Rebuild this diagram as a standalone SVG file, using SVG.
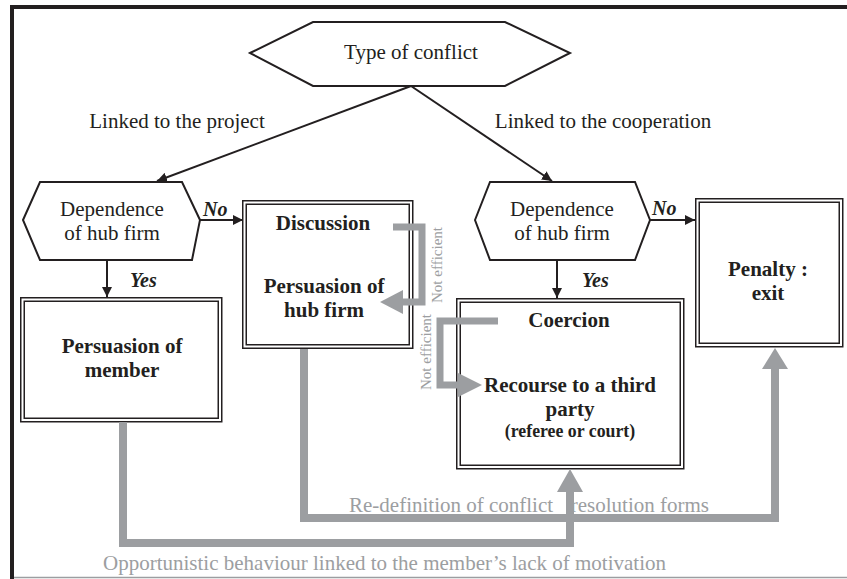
<svg xmlns="http://www.w3.org/2000/svg" width="847" height="579" viewBox="0 0 847 579">
<style>
  .t{font-family:"Liberation Serif","Times New Roman",serif;fill:#231f20;text-anchor:middle}
  .r{font-size:21px}
  .b{font-size:21px;font-weight:bold}
  .s{font-size:17.8px;font-weight:bold}
  .bi{font-size:20px;font-weight:bold;font-style:italic;text-anchor:start}
  .g{font-family:"Liberation Serif","Times New Roman",serif;fill:#9c9ea1;font-size:21px}
  .ne{font-size:15px;text-anchor:middle}
  .hex{fill:#fff;stroke:#231f20;stroke-width:2;stroke-linejoin:miter}
  .box{fill:#fff;stroke:#231f20;stroke-width:1.5}
  .ln{fill:none;stroke:#231f20;stroke-width:2}
  .gl{fill:none;stroke:#9c9ea1;stroke-width:8}
  .gb{fill:none;stroke:#9c9ea1;stroke-width:7}
  .gh{fill:#9c9ea1}
</style>
<defs>
  <marker id="ah" viewBox="0 0 10 10" refX="10" refY="5" markerWidth="5" markerHeight="5" orient="auto" markerUnits="strokeWidth">
    <path d="M0,0 L10,5 L0,10 Z" fill="#231f20"/>
  </marker>
</defs>
<rect width="847" height="579" fill="#fff"/>
<g id="frame">
  <line x1="10" y1="7" x2="847" y2="7" stroke="#231f20" stroke-width="4"/>
  <line x1="12" y1="5" x2="12" y2="579" stroke="#231f20" stroke-width="4"/>
  <line x1="14" y1="577.5" x2="847" y2="577.5" stroke="#9c9ea1" stroke-width="1.5"/>
</g>

<g id="type">
  <polygon class="hex" points="250,53 313,22 505,22 570,53 505,86 313,86"/>
  <text class="t r" x="411" y="59">Type of conflict</text>
</g>

<g id="dep1">
  <polygon class="hex" points="23,220 40,182 182,182 200,220 192,260 40,260"/>
  <text class="t r" x="112" y="216">Dependence</text>
  <text class="t r" x="112" y="240">of hub firm</text>
</g>

<g id="dep2">
  <polygon class="hex" points="475,220 490,182 635,182 650,220 635,260 490,260"/>
  <text class="t r" x="562" y="216">Dependence</text>
  <text class="t r" x="562" y="240">of hub firm</text>
</g>

<g id="member">
  <rect class="box" x="20.75" y="297.75" width="201" height="124"/>
  <rect class="box" x="24.25" y="301.25" width="194" height="117"/>
  <text class="t b" x="122" y="353">Persuasion of</text>
  <text class="t b" x="122" y="377">member</text>
</g>

<g id="discussion">
  <rect class="box" x="242.75" y="200.75" width="170" height="147.5"/>
  <rect class="box" x="246.25" y="204.25" width="163" height="140.5"/>
  <text class="t b" x="323" y="230">Discussion</text>
  <text class="t b" x="324" y="293">Persuasion of</text>
  <text class="t b" x="324" y="317">hub firm</text>
</g>

<g id="coercion">
  <rect class="box" x="456.75" y="298.75" width="227" height="170"/>
  <rect class="box" x="460.25" y="302.25" width="220" height="163"/>
  <text class="t b" x="569" y="327">Coercion</text>
  <text class="t b" x="570" y="392">Recourse to a third</text>
  <text class="t b" x="570" y="416">party</text>
  <text class="t s" x="570" y="437">(referee or court)</text>
</g>

<g id="penalty">
  <rect class="box" x="695.75" y="198.75" width="147" height="148"/>
  <rect class="box" x="699.25" y="202.25" width="140" height="141"/>
  <text class="t b" x="768" y="276">Penalty :</text>
  <text class="t b" x="768" y="300">exit</text>
</g>

<g id="connectors">
  <line class="ln" x1="411" y1="86" x2="157" y2="181" marker-end="url(#ah)"/>
  <line class="ln" x1="411" y1="86" x2="552" y2="181" marker-end="url(#ah)"/>
  <line class="ln" x1="200" y1="220" x2="243" y2="220" marker-end="url(#ah)"/>
  <line class="ln" x1="650" y1="220" x2="695" y2="220" marker-end="url(#ah)"/>
  <line class="ln" x1="107" y1="260" x2="107" y2="297" marker-end="url(#ah)"/>
  <line class="ln" x1="557" y1="260" x2="557" y2="298" marker-end="url(#ah)"/>

  <path class="gl" d="M304,349 V518 H775 V366"/>
  <polygon class="gh" points="762,369 775,348 788,369"/>
  <path class="gl" d="M123,422 V543 H570 V490"/>
  <polygon class="gh" points="557,492 570,469 583,492"/>

  <path class="gb" d="M393,227 H422 V302 H401"/>
  <polygon class="gh" points="403,290 380,302 403,314"/>
  <path class="gb" d="M498,321 H440 V385 H460"/>
  <polygon class="gh" points="458,373 482,385 458,397"/>

  <text class="t r" x="177" y="128">Linked to the project</text>
  <text class="t r" x="603" y="128">Linked to the cooperation</text>
  <text class="t bi" x="203" y="216">No</text>
  <text class="t bi" x="652" y="215">No</text>
  <text class="t bi" x="130" y="287">Yes</text>
  <text class="t bi" x="582" y="287">Yes</text>
  <text class="g ne" transform="translate(442,265) rotate(-90)">Not efficient</text>
  <text class="g ne" transform="translate(431,352) rotate(-90)">Not efficient</text>
  <text class="g" x="349" y="512">Re-definition of conflict</text>
  <text class="g" x="709" y="512" text-anchor="end">resolution forms</text>
  <text class="g" x="103" y="570">Opportunistic behaviour linked to the member’s lack of motivation</text>
</g>
</svg>
